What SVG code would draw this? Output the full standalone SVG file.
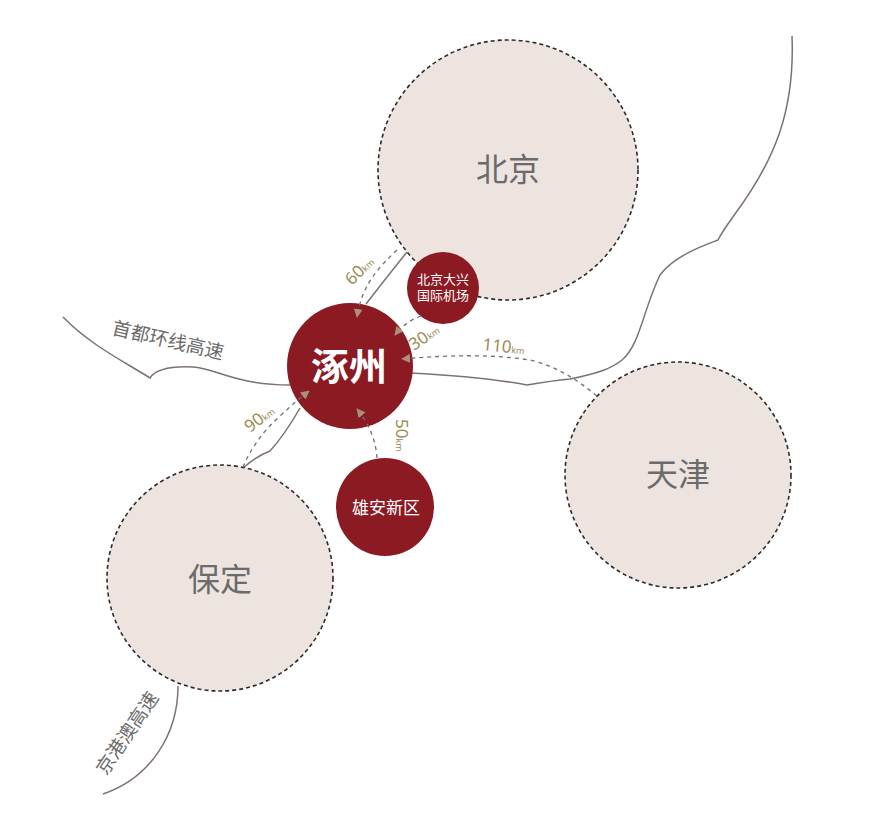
<svg xmlns="http://www.w3.org/2000/svg" width="890" height="828" viewBox="0 0 890 828">
<defs>
<style>
.road{fill:none;stroke:#7d726b;stroke-width:1.5}
.city{fill:#ede4e0;stroke:#2b2b2b;stroke-width:1.6;stroke-dasharray:4 3}
.red{fill:#8b1a22}
.conn{fill:none;stroke:#707070;stroke-width:1.3;stroke-dasharray:4 4}
.cityt{font-family:"Noto Sans CJK SC","Noto Sans",sans-serif;font-size:32px;fill:#6b6b6b;text-anchor:middle}
.wt{font-family:"Noto Sans CJK SC","Noto Sans",sans-serif;fill:#ffffff;text-anchor:middle}
.roadt{font-family:"Noto Sans CJK SC","Noto Sans",sans-serif;font-size:19px;fill:#6b6b6b;text-anchor:middle}
.dist{font-family:"Noto Sans","Liberation Sans",sans-serif;fill:#9c8c55}
.big{font-size:17px}
.sm{font-size:9px}
</style>
<marker id="arr" viewBox="0 0 10 10" refX="9" refY="5" markerWidth="9" markerHeight="9" markerUnits="userSpaceOnUse" orient="auto">
<path d="M0,0 L10,5 L0,10 z" fill="#a8927c"/>
</marker>
</defs>
<rect width="890" height="828" fill="#ffffff"/>
<g id="roads">
<path class="road" d="M63,317 C90,345 125,362 150,378 C155,370 170,366 193,367 C215,368 235,385 290,385"/>
<path class="road" d="M410,373 C450,375 490,378 527,385 C545,382 560,380 570,379 C600,373 612,368 622,360 C640,345 643,310 660,275 C675,255 705,245 718,240 C722,232 725,228 735,214 C775,160 795,110 792,36"/>
<path class="road" d="M407,252 Q386,278 366,304"/>
<path class="road" d="M300,408 C292,422 280,440 270,451 C262,454 252,460 243,468"/>
<path class="road" d="M178,686 C178,735 150,778 103,794"/>
</g>
<g id="beijing"><circle class="city" cx="508" cy="170" r="130"/><text class="cityt" x="508" y="181">北京</text></g>
<g id="tianjin"><circle class="city" cx="678" cy="475" r="113"/><text class="cityt" x="678" y="486">天津</text></g>
<g id="baoding"><circle class="city" cx="220" cy="578" r="113"/><text class="cityt" x="220" y="591">保定</text></g>
<g id="zhuozhou"><circle class="red" cx="350" cy="366" r="63"/><text class="wt" x="349" y="380" font-size="38" font-weight="bold">涿州</text></g>
<g id="airport"><circle class="red" cx="443" cy="288" r="36"/><text class="wt" x="443" y="283.5" font-size="13">北京大兴</text><text class="wt" x="443" y="300" font-size="13">国际机场</text></g>
<g id="xiongan"><circle class="red" cx="385" cy="507" r="49"/><text class="wt" x="386" y="514" font-size="17">雄安新区</text></g>
<g id="connectors">
<path class="conn" d="M397,250 C378,268 362,285 357,317" marker-end="url(#arr)"/>
<path class="conn" d="M421,316 C410,320 402,326 395,335" marker-end="url(#arr)"/>
<path class="conn" d="M597,396 C575,378 555,366 530,360 C490,354 450,355 402,359" marker-end="url(#arr)"/>
<path class="conn" d="M243,467 C250,450 262,432 280,416 C292,405 300,398 309,391" marker-end="url(#arr)"/>
<path class="conn" d="M377,458 C376,442 370,425 357,409" marker-end="url(#arr)"/>
</g>
<g id="labels">
<text class="dist" transform="translate(352,286) rotate(-45)"><tspan class="big">60</tspan><tspan class="sm">km</tspan></text>
<text class="dist" transform="translate(414,351) rotate(-35)"><tspan class="big">30</tspan><tspan class="sm">km</tspan></text>
<text class="dist" transform="translate(482,350) rotate(6)"><tspan class="big">110</tspan><tspan class="sm">km</tspan></text>
<text class="dist" transform="translate(250,433) rotate(-38)"><tspan class="big">90</tspan><tspan class="sm">km</tspan></text>
<text class="dist" transform="translate(396,419) rotate(90)"><tspan class="big">50</tspan><tspan class="sm">km</tspan></text>
<text class="roadt" transform="translate(168,340) rotate(13)" y="7">首都环线高速</text>
<text class="roadt" transform="translate(127,733) rotate(-56)" y="7">京港澳高速</text>
</g>
</svg>
